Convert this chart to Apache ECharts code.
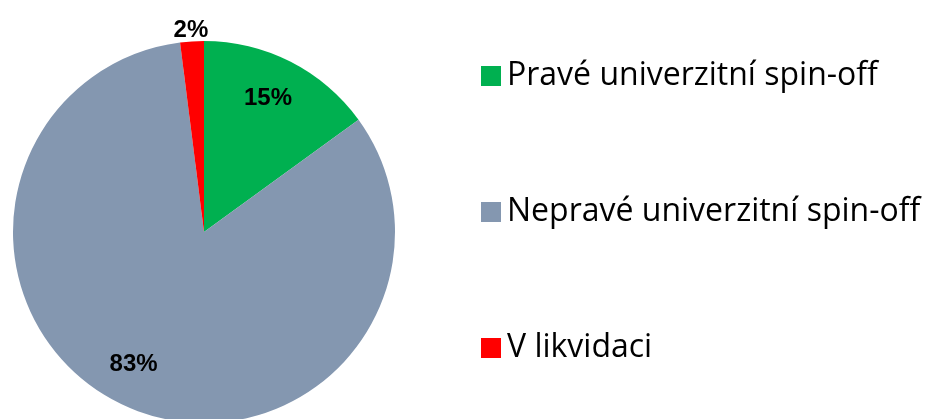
<!DOCTYPE html>
<html>
<head>
<meta charset="utf-8">
<script src="https://cdn.jsdelivr.net/npm/echarts@6/dist/echarts.min.js"></script>
<style>
  html, body { margin: 0; padding: 0; background: #fff; }
  #main { width: 935px; height: 419px; }
</style>
</head>
<body>
<div id="main"></div>
<script>
// kategorie a hodnoty (%)
var categories = ['Pravé univerzitní spin-off', 'Nepravé univerzitní spin-off', 'V likvidaci'];
var values = [15, 83, 2];
var colors = ['#00B050', '#8497B0', '#FF0000'];

var myChart = echarts.init(document.getElementById('main'));

var center = [204, 232];
var R = 191;
// posun popisků, aby seděly jako v Excelu
var labelOffsets = [[-5, 2], [-10, -7], [0, 6]];

function items(showLabel) {
    return categories.map(function (name, i) {
        return {
            name: name,
            value: values[i],
            label: { show: showLabel(i), offset: labelOffsets[i] }
        };
    });
}

var labelStyle = {
    position: 'inside',
    formatter: '{d}%',
    color: '#000',
    fontFamily: 'Liberation Sans',
    fontWeight: 'bold',
    fontSize: 24
};

var option = {
    animation: false,
    color: colors,
    legend: {
        orient: 'vertical',
        left: 476,
        top: 55,
        itemWidth: 20,
        itemHeight: 20,
        itemGap: 104,
        icon: 'rect',
        selectedMode: false,
        data: categories.map(function (name, i) {
            return { name: name, itemStyle: { color: colors[i] } };
        }),
        textStyle: {
            fontFamily: 'Open Sans',
            fontSize: 32,
            color: '#000',
            padding: [0, 0, 0, 1]
        }
    },
    series: [
        {
            // vlastní koláč
            type: 'pie',
            center: center,
            radius: R,
            silent: true,
            label: { show: false },
            labelLine: { show: false },
            data: items(function () { return false; })
        },
        {
            // popisky uvnitř
            type: 'pie',
            center: center,
            radius: [107, R],
            silent: true,
            itemStyle: { color: 'rgba(0,0,0,0)' },
            label: labelStyle,
            labelLine: { show: false },
            data: items(function (i) { return i < 2; })
        },
        {
            // popisek malé výseče nad koláčem
            type: 'pie',
            center: center,
            radius: [R, R + 28],
            silent: true,
            itemStyle: { color: 'rgba(0,0,0,0)' },
            label: labelStyle,
            labelLine: { show: false },
            data: items(function (i) { return i === 2; })
        }
    ]
};

myChart.setOption(option);
</script>
</body>
</html>
